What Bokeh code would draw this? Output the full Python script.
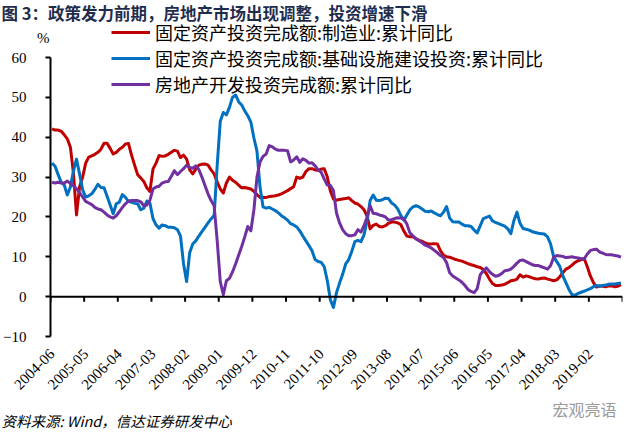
from bokeh.plotting import figure
from bokeh.models import Range1d, FixedTicker, LinearAxis, Legend, LegendItem, Span, Title
from bokeh.embed import file_html
from bokeh.resources import INLINE
import math

# ---------------- data (monthly, 2004-06 .. 2019-12) ----------------
months = [f"{2004 + (5 + i) // 12}-{(5 + i) % 12 + 1:02d}" for i in range(187)]

manufacturing = (
    [42.1, 41.8, 41.8, 41.5, 40.6, 39.6, 37.5]
    + [31.0, 20.5, 27.5, 30.0, 33.5, 35.0, 35.3, 35.7, 36.2, 37.0, 38.5, 38.5]
    + [37.2, 35.8, 36.2, 37.0, 37.5, 38.3, 38.4, 35.5, 33.0, 30.6, 29.8, 28.9]
    + [27.3, 26.4, 32.0, 33.5, 35.4, 35.2, 35.3, 35.7, 36.2, 36.7, 36.5, 34.9]
    + [35.5, 34.5, 31.8, 30.8, 32.0, 33.0, 33.2, 33.3, 33.0, 31.8, 30.8, 28.8]
    + [27.0, 26.0, 28.5, 30.0, 29.2, 28.7, 28.0, 27.3, 27.4, 27.2, 27.0, 26.4]
    + [25.6, 24.9, 24.9, 24.9, 25.1, 25.2, 25.3, 25.5, 25.8, 26.2, 26.6, 27.1]
    + [27.6, 30.0, 29.7, 30.0, 31.4, 32.1, 32.1, 31.8, 31.7, 32.0, 32.1, 30.0]
    + [26.5, 24.5, 24.2, 24.4, 24.5, 24.6, 24.8, 24.1, 23.5, 23.2, 22.6, 21.8]
    + [20.2, 17.0, 17.9, 18.2, 17.6, 17.5, 17.8, 18.4, 18.7, 18.7, 18.5, 18.1]
    + [16.5, 15.2, 15.0, 15.1, 14.5, 14.1, 13.9, 13.5, 13.2, 13.2, 13.3, 13.2]
    + [11.5, 10.4, 10.0, 9.9, 9.6, 9.3, 9.1, 8.9, 8.6, 8.3, 8.0, 7.8]
    + [7.5, 7.3, 6.8, 5.8, 4.4, 3.3, 2.8, 2.8, 2.9, 3.1, 3.5, 4.0]
    + [4.1, 4.4, 5.5, 4.9, 5.2, 5.0, 4.7, 4.5, 4.4, 4.6, 4.7, 4.4]
    + [4.2, 4.0, 4.2, 5.0, 6.0, 6.9, 7.3, 7.9, 8.6, 9.0, 9.3, 9.5]
    + [7.5, 5.2, 3.5, 2.4, 2.7, 2.6, 2.5, 2.7, 2.7, 2.5, 2.6, 3.0]
)

infrastructure = (
    [33.5, 32.7, 30.6, 28.7, 28.0, 25.5, 27.5]
    + [31.5, 34.5, 30.8, 26.8, 25.0, 25.3, 25.8, 26.9, 28.2, 27.4, 27.3, 25.2]
    + [23.0, 20.8, 23.3, 23.7, 25.6, 24.9, 23.9, 23.7, 23.4, 23.3, 21.8, 22.2]
    + [24.0, 23.5, 19.6, 18.0, 17.2, 18.0, 17.8, 17.4, 17.4, 17.3, 16.8, 15.2]
    + [8.2, 3.8, 11.0, 13.2, 14.0, 15.2, 16.3, 17.4, 18.5, 19.5, 20.4, 33.0]
    + [44.0, 46.2, 45.6, 47.5, 50.0, 50.6, 48.9, 48.1, 46.6, 45.4, 43.8, 39.8]
    + [36.5, 27.5, 22.5, 22.2, 22.4, 22.0, 21.6, 21.0, 20.3, 19.8, 19.2, 18.3]
    + [18.0, 17.5, 16.5, 15.2, 14.0, 12.8, 11.5, 9.3, 8.8, 8.6, 7.5, 4.0]
    + [-0.8, -2.7, 1.0, 3.4, 5.6, 8.2, 9.3, 11.4, 13.8, 14.1, 13.8, 15.5]
    + [19.1, 24.1, 25.5, 24.2, 24.1, 24.3, 24.7, 24.6, 23.5, 23.0, 22.0, 20.4]
    + [19.2, 20.5, 21.8, 22.5, 22.8, 22.5, 22.0, 21.4, 21.3, 21.5, 21.0, 20.6]
    + [20.3, 21.2, 22.6, 19.7, 18.8, 18.7, 18.7, 18.2, 17.8, 17.8, 17.6, 16.7]
    + [16.0, 17.8, 19.6, 19.9, 20.2, 19.0, 18.6, 18.3, 18.0, 17.7, 17.0, 15.8]
    + [19.1, 21.2, 18.4, 17.1, 16.9, 16.7, 16.3, 16.1, 15.9, 15.8, 15.7, 15.0]
    + [13.2, 10.0, 8.8, 7.6, 5.2, 3.5, 1.8, 0.5, 0.4, 0.8, 1.1, 1.4]
    + [1.7, 2.0, 2.5, 2.8, 2.6, 2.8, 2.9, 3.1, 3.2, 3.2, 3.3, 3.4]
)

real_estate = (
    [28.7, 28.5, 28.7, 28.5, 28.5, 29.0, 28.4]
    + [27.8, 27.1, 26.1, 25.0, 23.9, 23.5, 23.1, 22.4, 22.0, 21.8, 21.2, 20.5]
    + [20.0, 19.7, 20.3, 21.3, 22.4, 23.3, 24.0, 24.1, 24.1, 24.1, 23.8, 22.8]
    + [23.0, 24.2, 27.0, 27.5, 27.7, 28.5, 28.8, 28.9, 30.2, 31.6, 30.6, 31.4]
    + [32.1, 33.0, 32.4, 32.2, 32.8, 31.9, 30.0, 27.9, 25.8, 24.1, 22.8, 14.0]
    + [3.8, 0.5, 4.0, 4.6, 6.2, 8.2, 10.4, 12.6, 15.0, 17.6, 16.5, 21.8]
    + [30.0, 33.8, 35.2, 35.8, 37.9, 37.6, 37.0, 36.7, 36.7, 36.7, 36.6, 33.8]
    + [34.3, 35.1, 33.7, 34.6, 34.2, 33.5, 33.6, 32.8, 31.8, 31.2, 29.5, 28.0]
    + [27.9, 26.6, 21.0, 18.5, 16.8, 15.8, 15.3, 15.3, 15.5, 16.8, 16.2, 17.8]
    + [19.9, 22.8, 20.9, 20.8, 20.5, 20.3, 20.0, 19.2, 19.3, 19.6, 19.8, 19.7]
    + [19.5, 18.2, 16.0, 15.2, 14.5, 14.0, 13.5, 12.9, 12.6, 12.2, 11.6, 11.0]
    + [10.3, 9.8, 8.5, 6.0, 5.2, 4.7, 4.2, 3.6, 2.8, 1.8, 1.3, 1.0]
    + [2.0, 5.5, 6.5, 7.2, 6.3, 5.6, 5.1, 5.3, 5.8, 6.5, 6.6, 6.9]
    + [7.6, 8.4, 9.1, 9.2, 8.8, 8.4, 8.0, 7.8, 7.8, 7.5, 7.2, 6.9]
    + [7.8, 9.9, 10.3, 10.2, 10.1, 9.8, 9.9, 10.0, 9.8, 9.7, 9.5, 9.5]
    + [10.7, 11.6, 11.8, 11.9, 11.2, 10.9, 10.6, 10.5, 10.5, 10.3, 10.2, 9.9]
)

series_names = [
    "固定资产投资完成额:制造业:累计同比",
    "固定资产投资完成额:基础设施建设投资:累计同比",
    "房地产开发投资完成额:累计同比",
]
series_colors = ["#C00000", "#0070C0", "#7030A0"]

tick_labels = ["2004-06", "2005-05", "2006-04", "2007-03", "2008-02", "2009-01",
               "2009-12", "2010-11", "2011-10", "2012-09", "2013-08", "2014-07",
               "2015-06", "2016-05", "2017-04", "2018-03", "2019-02"]
label_step = 11
y_ticks = [-10, 0, 10, 20, 30, 40, 50, 60]
unit_text = "%"
unit_tick = 65

title_text = "图 3：政策发力前期，房地产市场出现调整，投资增速下滑"
source_text = "资料来源: Wind，信达证券研发中心"
watermark_text = "宏观亮语"

# ---------------- layout ----------------
W, H = 624, 430
FL, FR = 45, 622          # frame left/right in figure px
FT, FB = 17, 336          # frame top/bottom in figure px
PX_PER_UNIT = (336 - 57) / 70.0
n = len(months)
XMIN, XMAX = -0.5, n - 0.5
YMIN = -10
YMAX = 60 + (57 - FT) / PX_PER_UNIT

x = list(range(n))

p = figure(width=W, height=H, output_backend="svg", toolbar_location=None,
           title=title_text,
           x_range=Range1d(XMIN, XMAX), y_range=Range1d(YMIN, YMAX),
           min_border_left=FL, min_border_right=W - FR,
           min_border_top=FT, min_border_bottom=H - FB)
p.outline_line_color = None
p.grid.visible = False
p.background_fill_color = "white"
p.border_fill_color = "white"

p.title.align = "left"
p.title.offset = -49
p.title.standoff = -14
p.title.text_font = "Noto Sans CJK SC"
p.title.text_font_style = "bold"
p.title.text_font_size = "16.5px"
p.title.text_color = "#1F2D4D"

renderers = []
for vals, col in zip([manufacturing, infrastructure, real_estate], series_colors):
    r = p.line(x, vals, line_color=col, line_width=3, line_join="round")
    renderers.append(r)

# horizontal axis line at 0 with tick marks between label groups
p.add_layout(Span(location=0, dimension="width", line_color="black", line_width=2))
bounds = [XMIN + label_step * k for k in range(n // label_step + 1)]
tick_len = 5 / PX_PER_UNIT
p.segment(x0=bounds, y0=[0] * len(bounds), x1=bounds, y1=[-tick_len] * len(bounds),
          line_color="black", line_width=2)

# y axis
yax = p.yaxis[0]
yax.ticker = FixedTicker(ticks=y_ticks)
yax.bounds = (y_ticks[0], y_ticks[-1])
yax.axis_line_width = 2
yax.axis_line_color = "black"
yax.major_tick_line_width = 2
yax.major_tick_out = 5
yax.major_tick_in = 0
yax.minor_tick_out = 0
yax.minor_tick_in = 0
yax.major_label_standoff = 19
yax.major_label_text_font = "Liberation Serif"
yax.major_label_text_font_size = "15px"
yax.major_label_text_color = "black"

# "%" unit label as an extra (outer) axis label, pulled back next to the axis
unit_axis = LinearAxis(ticker=FixedTicker(ticks=[unit_tick]),
                       major_label_overrides={unit_tick: unit_text})
unit_axis.axis_line_color = None
unit_axis.major_tick_line_color = None
unit_axis.major_tick_out = 0
unit_axis.major_tick_in = 0
unit_axis.minor_tick_out = 0
unit_axis.minor_tick_in = 0
unit_axis.major_label_standoff = -49
unit_axis.major_label_text_font = "Liberation Serif"
unit_axis.major_label_text_font_size = "15px"
unit_axis.major_label_text_color = "black"
p.add_layout(unit_axis, "left")

# x axis: labels only
xax = p.xaxis[0]
label_pos = [label_step * k for k in range(len(tick_labels))]
xax.ticker = FixedTicker(ticks=label_pos)
xax.major_label_overrides = {pos: lab for pos, lab in zip(label_pos, tick_labels)}
xax.axis_line_color = None
xax.major_tick_line_color = None
xax.major_tick_out = 0
xax.major_tick_in = 0
xax.minor_tick_out = 0
xax.minor_tick_in = 0
xax.major_label_orientation = math.pi / 4
xax.major_label_standoff = 15
xax.major_label_text_font = "Liberation Serif"
xax.major_label_text_font_size = "15px"
xax.major_label_text_color = "black"

# footer texts
p.add_layout(Title(text=watermark_text, align="left", offset=502, standoff=-4,
                   text_font="Noto Sans CJK SC", text_font_style="normal",
                   text_font_size="16px", text_color="#9a9a9a"), "below")
p.add_layout(Title(text=source_text, align="left", offset=-49, standoff=-21,
                   text_font="Noto Sans CJK SC", text_font_style="italic",
                   text_font_size="14.5px", text_color="black"), "below")

# legend
legend = Legend(items=[LegendItem(label=nm, renderers=[r]) for nm, r in zip(series_names, renderers)],
                location=(61, 239), orientation="vertical",
                glyph_width=39, glyph_height=20, label_standoff=5, spacing=0,
                padding=0, margin=0, border_line_alpha=0, background_fill_alpha=0,
                label_text_font="Noto Sans CJK SC", label_text_font_size="18px",
                label_text_color="black")
p.add_layout(legend, "center")

open("out.html", "w").write(file_html(p, INLINE))
